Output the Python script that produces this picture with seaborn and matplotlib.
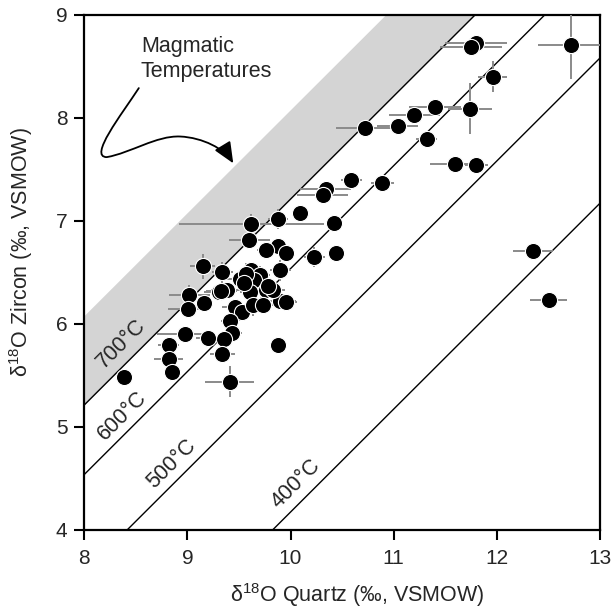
import numpy as np
import pandas as pd
import matplotlib
matplotlib.use("Agg")
import matplotlib.pyplot as plt
from matplotlib.path import Path
from matplotlib.patches import FancyArrowPatch
import seaborn as sns

# Quartz and zircon oxygen isotope compositions (per mil, VSMOW) with 1-sigma errors
qz = [12.72, 11.80, 11.75, 11.96, 11.40, 11.20, 11.04, 10.72, 11.74, 11.32,
      11.59, 11.80, 10.59, 10.89, 10.34, 10.31, 10.09, 9.88, 10.42, 9.62,
      9.60, 9.88, 9.76, 9.96, 10.23, 10.44, 12.35, 12.50, 9.15, 9.34,
      9.90, 9.62, 9.70, 9.65, 9.51, 9.57, 9.76, 9.61, 9.38, 9.31,
      9.33, 9.02, 9.16, 9.01, 9.46, 9.53, 9.64, 9.73, 9.90, 9.96,
      9.83, 9.41, 9.43, 9.36, 9.20, 8.98, 8.82, 8.82, 8.85, 8.39,
      9.41, 9.34, 9.88, 9.78, 9.55]
zrc = [8.71, 8.73, 8.69, 8.40, 8.11, 8.03, 7.92, 7.90, 8.09, 7.80,
       7.55, 7.54, 7.40, 7.37, 7.31, 7.25, 7.08, 7.02, 6.98, 6.97,
       6.82, 6.76, 6.72, 6.69, 6.65, 6.69, 6.71, 6.23, 6.56, 6.50,
       6.52, 6.52, 6.48, 6.43, 6.44, 6.49, 6.33, 6.31, 6.33, 6.31,
       6.32, 6.28, 6.20, 6.15, 6.16, 6.12, 6.18, 6.18, 6.22, 6.21,
       6.33, 6.03, 5.91, 5.85, 5.86, 5.90, 5.80, 5.66, 5.53, 5.49,
       5.44, 5.71, 5.80, 6.37, 6.40]
qz_err = [0.32, 0.30, 0.30, 0.14, 0.25, 0.25, 0.20, 0.28, 0.21, 0.10,
          0.24, 0.11, 0.10, 0.11, 0.25, 0.25, 0.07, 0.10, 0.07, 0.70,
          0.20, 0.08, 0.08, 0.08, 0.10, 0.06, 0.19, 0.18, 0.12, 0.10,
          0.10, 0.10, 0.10, 0.12, 0.15, 0.10, 0.12, 0.10, 0.15, 0.15,
          0.15, 0.20, 0.08, 0.20, 0.12, 0.10, 0.10, 0.12, 0.15, 0.10,
          0.12, 0.08, 0.10, 0.10, 0.12, 0.27, 0.10, 0.14, 0.08, 0.05,
          0.24, 0.12, 0.05, 0.12, 0.10]
zrc_err = [0.33, 0.07, 0.07, 0.15, 0.05, 0.05, 0.05, 0.04, 0.25, 0.05,
           0.04, 0.04, 0.04, 0.04, 0.04, 0.04, 0.05, 0.10, 0.05, 0.10,
           0.05, 0.06, 0.06, 0.06, 0.10, 0.05, 0.04, 0.04, 0.12, 0.10,
           0.10, 0.08, 0.08, 0.08, 0.08, 0.10, 0.08, 0.08, 0.08, 0.08,
           0.08, 0.10, 0.06, 0.08, 0.08, 0.08, 0.10, 0.08, 0.08, 0.08,
           0.08, 0.06, 0.06, 0.06, 0.06, 0.06, 0.05, 0.06, 0.05, 0.04,
           0.15, 0.06, 0.04, 0.08, 0.08]

# Isotherms from the quartz-zircon fractionation, Delta = A * 1e6 / T^2
frac_A = 2.64
isotherm_C = [700, 600, 500, 400]
magmatic_range_C = [700, 900]
label_pos = {700: (8.36, 5.81), 600: (8.37, 5.11), 500: (8.85, 4.64), 400: (10.05, 4.45)}

x_ticks = [8, 9, 10, 11, 12, 13]
y_ticks = [4, 5, 6, 7, 8, 9]


def delta_qz_zrc(t_c):
    return frac_A * 1e6 / (t_c + 273.15) ** 2


df = pd.DataFrame({"qz": qz, "zrc": zrc, "qz_err": qz_err, "zrc_err": zrc_err})

sns.set_style("ticks")
plt.rcParams["font.family"] = ["Liberation Sans", "DejaVu Sans"]
plt.rcParams["mathtext.fontset"] = "custom"
plt.rcParams["mathtext.rm"] = "Liberation Sans"

fig = plt.figure(figsize=(6.14, 6.11), dpi=100)
ax = fig.add_axes([0.137, 0.1326, 0.8404, 0.8429])

# Shaded band of magmatic temperatures
xs = np.array([x_ticks[0], x_ticks[-1]], dtype=float)
ax.fill_between(xs, xs - delta_qz_zrc(magmatic_range_C[1]), xs - delta_qz_zrc(magmatic_range_C[0]),
                color="#d4d4d4", lw=0, zorder=0)

for t in isotherm_C:
    d = delta_qz_zrc(t)
    ax.axline((10.0, 10.0 - d), slope=1, color="black", lw=1.0, zorder=1)
    lx, ly = label_pos[t]
    ax.text(lx, ly, f"{t}°C", rotation=45, rotation_mode="anchor", ha="center", va="center",
            fontsize=15.5, zorder=2)

ax.errorbar(df["qz"], df["zrc"], xerr=df["qz_err"], yerr=df["zrc_err"], fmt="none",
            ecolor="#8a8a8a", elinewidth=1.4, capsize=0, zorder=3)
sns.scatterplot(data=df, x="qz", y="zrc", ax=ax, color="black", edgecolor="white",
                linewidth=0.8, s=135, zorder=4, legend=False)

# Annotation with a curved arrow pointing into the band
ax.text(8.55, 8.641, "Magmatic", fontsize=15.5, va="baseline", ha="left")
ax.text(8.55, 8.398, "Temperatures", fontsize=15.5, va="baseline", ha="left")
verts = [(8.53, 8.29), (8.36, 8.03), (8.04, 7.62), (8.22, 7.62),
         (8.45, 7.66), (8.70, 7.83), (8.93, 7.82),
         (9.15, 7.81), (9.36, 7.70), (9.445, 7.56)]
codes = [Path.MOVETO] + [Path.CURVE4] * 9
arrow = FancyArrowPatch(path=Path(verts, codes), arrowstyle="-|>,head_length=0.8,head_width=0.35",
                        mutation_scale=16, color="black", lw=1.3, zorder=5)
ax.add_patch(arrow)

ax.set_xlim(x_ticks[0], x_ticks[-1])
ax.set_ylim(y_ticks[0], y_ticks[-1])
ax.set_xticks(x_ticks)
ax.set_yticks(y_ticks)
ax.set_xlabel(r"$\mathregular{\delta^{18}}$O Quartz (‰, VSMOW)", fontsize=15.5, labelpad=9, x=0.53)
ax.set_ylabel(r"$\mathregular{\delta^{18}}$O Zircon (‰, VSMOW)", fontsize=15.5, labelpad=15, y=0.54)
ax.tick_params(axis="both", direction="out", length=7, width=1.5, labelsize=15, color="black")
ax.tick_params(axis="x", pad=7)
ax.tick_params(axis="y", pad=5)
for side in ["left", "bottom", "top", "right"]:
    ax.spines[side].set_visible(True)
    ax.spines[side].set_linewidth(1.6)
    ax.spines[side].set_color("black")

fig.savefig("out.png", dpi=100)
